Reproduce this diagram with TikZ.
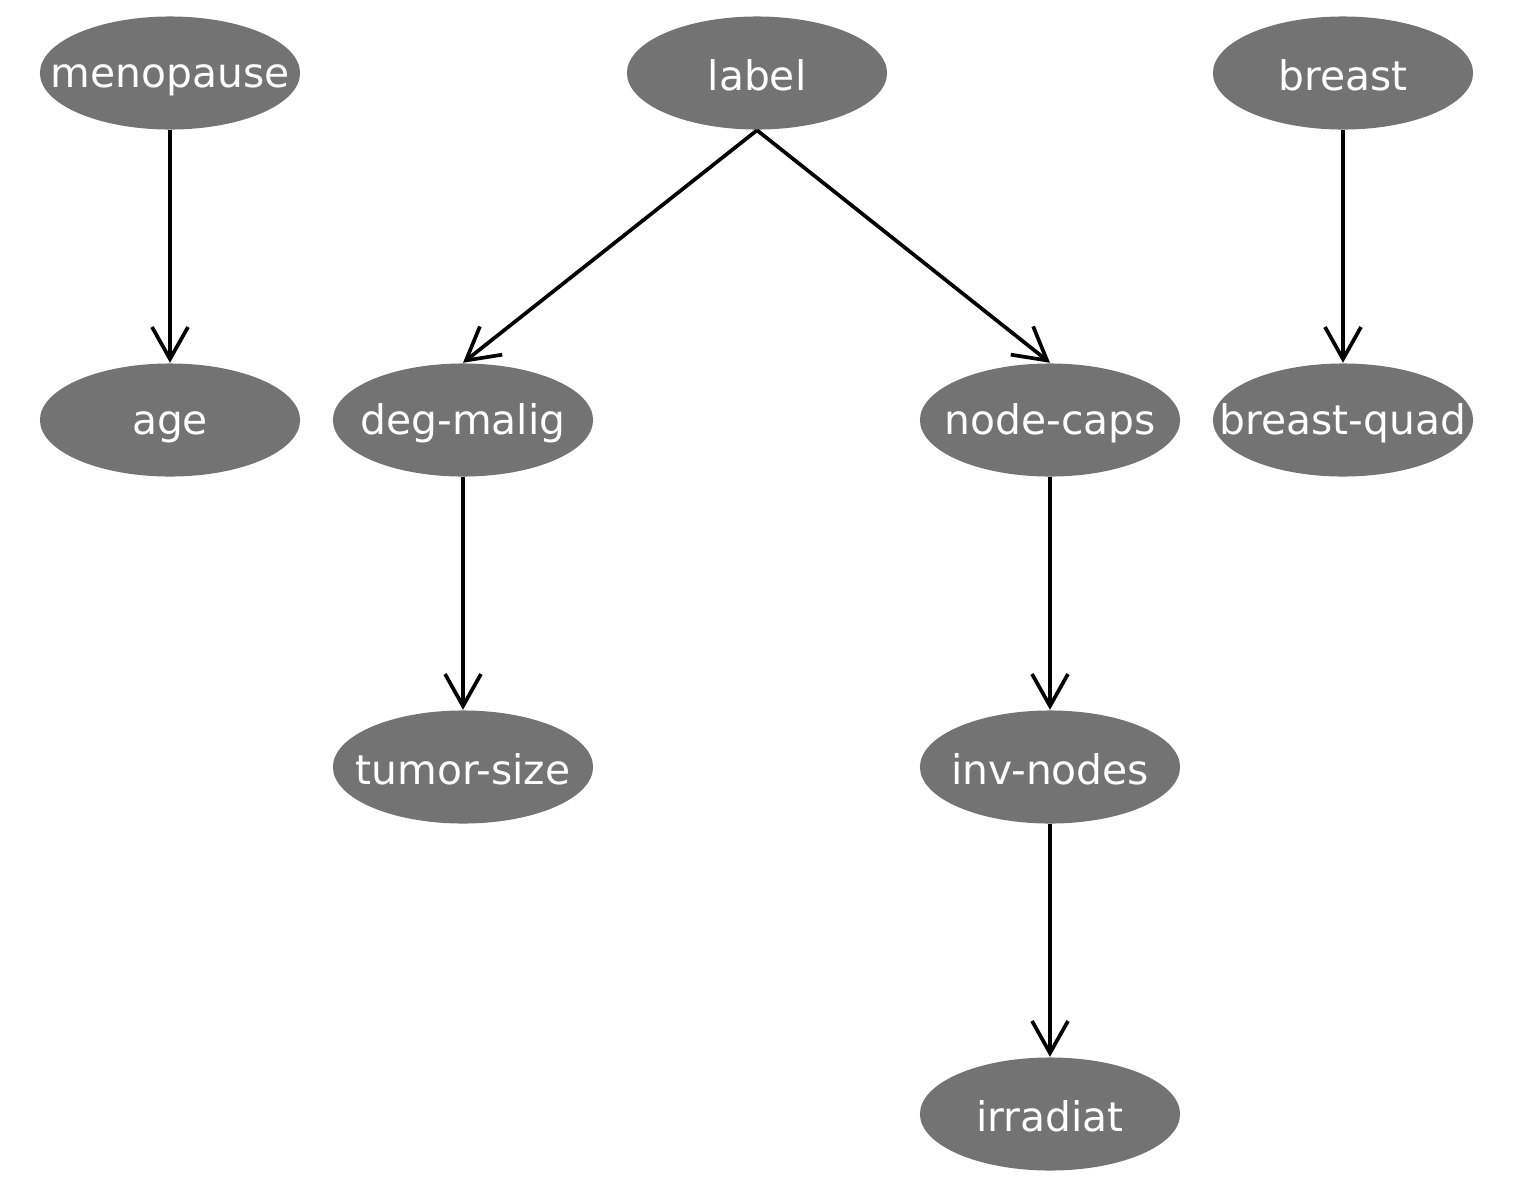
\documentclass[tikz,border=0pt]{standalone}
\usepackage{fontspec}
\setmainfont{DejaVu Sans}
\usetikzlibrary{shapes.geometric,arrows.meta}
\definecolor{nodegray}{HTML}{737373}
\newcommand{\bntext}[1]{\makebox[0pt]{\raisebox{-0.06cm}{#1}\vphantom{dg}}}
\tikzset{
  bn/.style={ellipse, fill=nodegray, text=white, minimum width=2.6cm, minimum height=1.13cm, inner sep=0pt, font=\fontsize{11.6}{13}\selectfont},
  edge/.style={draw=black, line width=1.05pt, -{Straight Barb[length=0.32cm, width=0.36cm, line width=1.05pt]}}
}
\begin{document}
\begin{tikzpicture}[x=0.01cm, y=-0.01cm]
\useasboundingbox (0,0) rectangle (1520,1190);
\node[bn] (menopause) at (170,73) {\bntext{menopause}};
\node[bn] (label) at (757,73) {\bntext{label}};
\node[bn] (breast) at (1343,73) {\bntext{breast}};
\node[bn] (age) at (170,420) {\bntext{age}};
\node[bn] (degmalig) at (463,420) {\bntext{deg-malig}};
\node[bn] (nodecaps) at (1050,420) {\bntext{node-caps}};
\node[bn] (breastquad) at (1343,420) {\bntext{breast-quad}};
\node[bn] (tumorsize) at (463,767) {\bntext{tumor-size}};
\node[bn] (invnodes) at (1050,767) {\bntext{inv-nodes}};
\node[bn] (irradiat) at (1050,1114) {\bntext{irradiat}};
\draw[edge] (menopause.south) -- (age.north);
\draw[edge] (label.south) -- (degmalig.north);
\draw[edge] (label.south) -- (nodecaps.north);
\draw[edge] (breast.south) -- (breastquad.north);
\draw[edge] (degmalig.south) -- (tumorsize.north);
\draw[edge] (nodecaps.south) -- (invnodes.north);
\draw[edge] (invnodes.south) -- (irradiat.north);
\end{tikzpicture}
\end{document}
